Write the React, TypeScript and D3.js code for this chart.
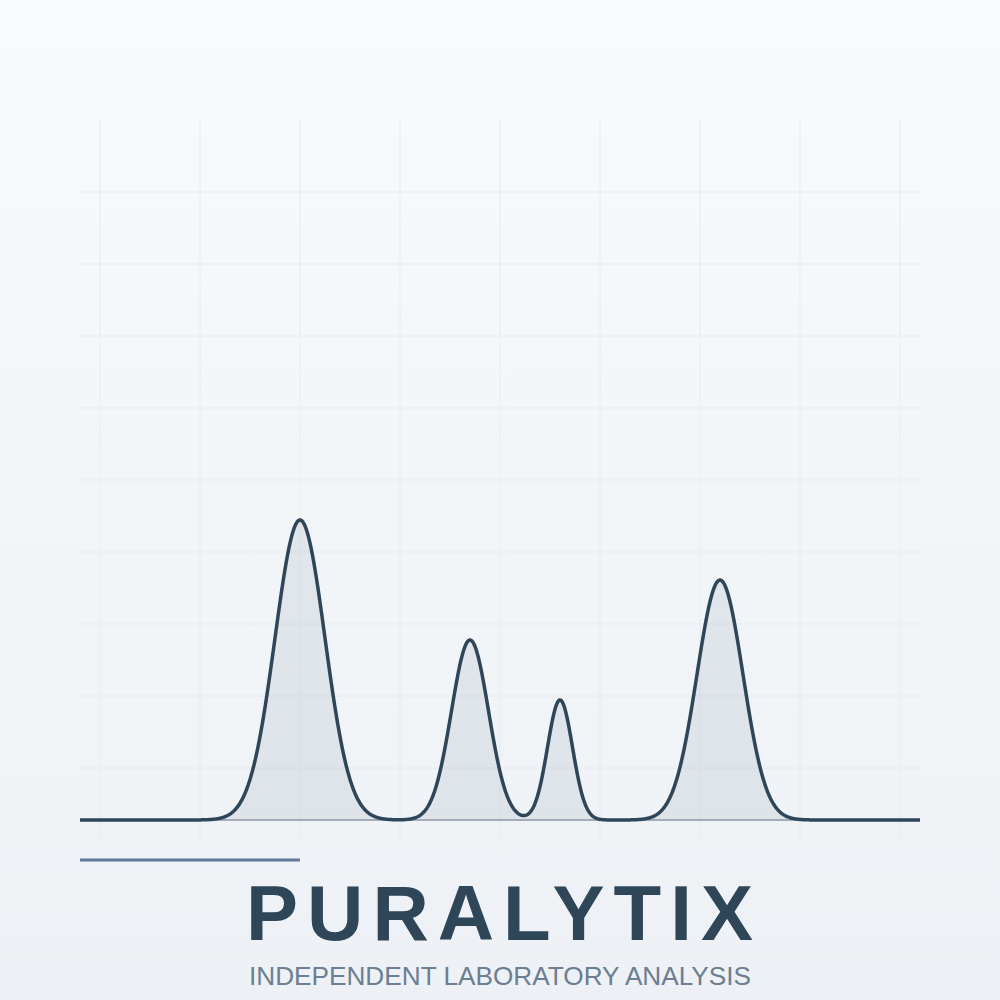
import React, { useEffect, useRef } from "react";
import * as d3 from "d3";

// Chromatogram peaks (retention position in grid units, relative height, width sigma)
const peakPositions = [2.0, 3.7, 4.6, 6.2];
const peakHeights = [1.0, 0.6, 0.4, 0.8];
const peakWidths = [0.25, 0.185, 0.125, 0.23];

const xDomain = [-0.2, 8.2];
const xGridTicks = [0, 1, 2, 3, 4, 5, 6, 7, 8];
const yGridTicks = [1, 2, 3, 4, 5, 6, 7, 8, 9];

const brandName = "PURALYTIX";
const tagline = "INDEPENDENT LABORATORY ANALYSIS";

const W = 1000;
const H = 1000;

export default function App() {
  const ref = useRef<SVGSVGElement | null>(null);

  useEffect(() => {
    document.body.style.margin = "0";
    const svg = d3.select(ref.current);
    svg.selectAll("*").remove();

    const defs = svg.append("defs");
    const grad = defs
      .append("linearGradient")
      .attr("id", "bg")
      .attr("x1", 0)
      .attr("y1", 0)
      .attr("x2", 0)
      .attr("y2", 1);
    grad.append("stop").attr("offset", "0%").attr("stop-color", "#f8fafc");
    grad.append("stop").attr("offset", "100%").attr("stop-color", "#edf1f5");

    svg.append("rect").attr("width", W).attr("height", H).attr("fill", "url(#bg)");

    const x = d3.scaleLinear().domain(xDomain).range([80, 920]);
    const y = d3.scaleLinear().domain([0, 1]).range([820, 520]);
    const gy = d3.scaleLinear().domain([0, 10]).range([840, 120]);

    const grid = svg.append("g").attr("stroke", "#e3e8ee").attr("stroke-width", 1).attr("opacity", 0.7);
    grid
      .selectAll("line.v")
      .data(xGridTicks)
      .join("line")
      .attr("class", "v")
      .attr("x1", (d) => x(d))
      .attr("x2", (d) => x(d))
      .attr("y1", gy(10))
      .attr("y2", gy(0));
    grid
      .selectAll("line.h")
      .data(yGridTicks)
      .join("line")
      .attr("class", "h")
      .attr("x1", x(xDomain[0]))
      .attr("x2", x(xDomain[1]))
      .attr("y1", (d) => gy(d))
      .attr("y2", (d) => gy(d));

    const signal = (t: number) =>
      peakPositions.reduce((s, p, i) => {
        const z = (t - p) / peakWidths[i];
        return s + peakHeights[i] * Math.exp(-0.5 * z * z);
      }, 0);

    const samples = d3.range(xDomain[0], xDomain[1] + 1e-9, 0.005).map((t) => [t, signal(t)] as [number, number]);

    const area = d3
      .area<[number, number]>()
      .x((d) => x(d[0]))
      .y0(y(0))
      .y1((d) => y(d[1]));
    svg.append("path").datum(samples).attr("d", area).attr("fill", "#4a6482").attr("fill-opacity", 0.1);

    svg
      .append("line")
      .attr("x1", x(xDomain[0]))
      .attr("x2", x(xDomain[1]))
      .attr("y1", y(0))
      .attr("y2", y(0))
      .attr("stroke", "#a3adb9")
      .attr("stroke-width", 2);

    const line = d3
      .line<[number, number]>()
      .x((d) => x(d[0]))
      .y((d) => y(d[1]));
    svg
      .append("path")
      .datum(samples)
      .attr("d", line)
      .attr("fill", "none")
      .attr("stroke", "#2f4558")
      .attr("stroke-width", 3.5)
      .attr("stroke-linejoin", "round");

    svg
      .append("line")
      .attr("x1", 80)
      .attr("x2", 300)
      .attr("y1", 860)
      .attr("y2", 860)
      .attr("stroke", "#60799a")
      .attr("stroke-width", 3);

    svg
      .append("text")
      .attr("x", 504)
      .attr("y", 940)
      .attr("text-anchor", "middle")
      .attr("font-family", "'Liberation Sans', Arial, sans-serif")
      .attr("font-weight", "bold")
      .attr("font-size", 78)
      .attr("letter-spacing", 9)
      .attr("fill", "#2f4558")
      .text(brandName);

    svg
      .append("text")
      .attr("x", 500)
      .attr("y", 985)
      .attr("text-anchor", "middle")
      .attr("font-family", "'Liberation Sans', Arial, sans-serif")
      .attr("font-size", 26.2)
      .attr("fill", "#6b7e92")
      .text(tagline);
  }, []);

  return <svg ref={ref} width={W} height={H} style={{ display: "block" }} />;
}
